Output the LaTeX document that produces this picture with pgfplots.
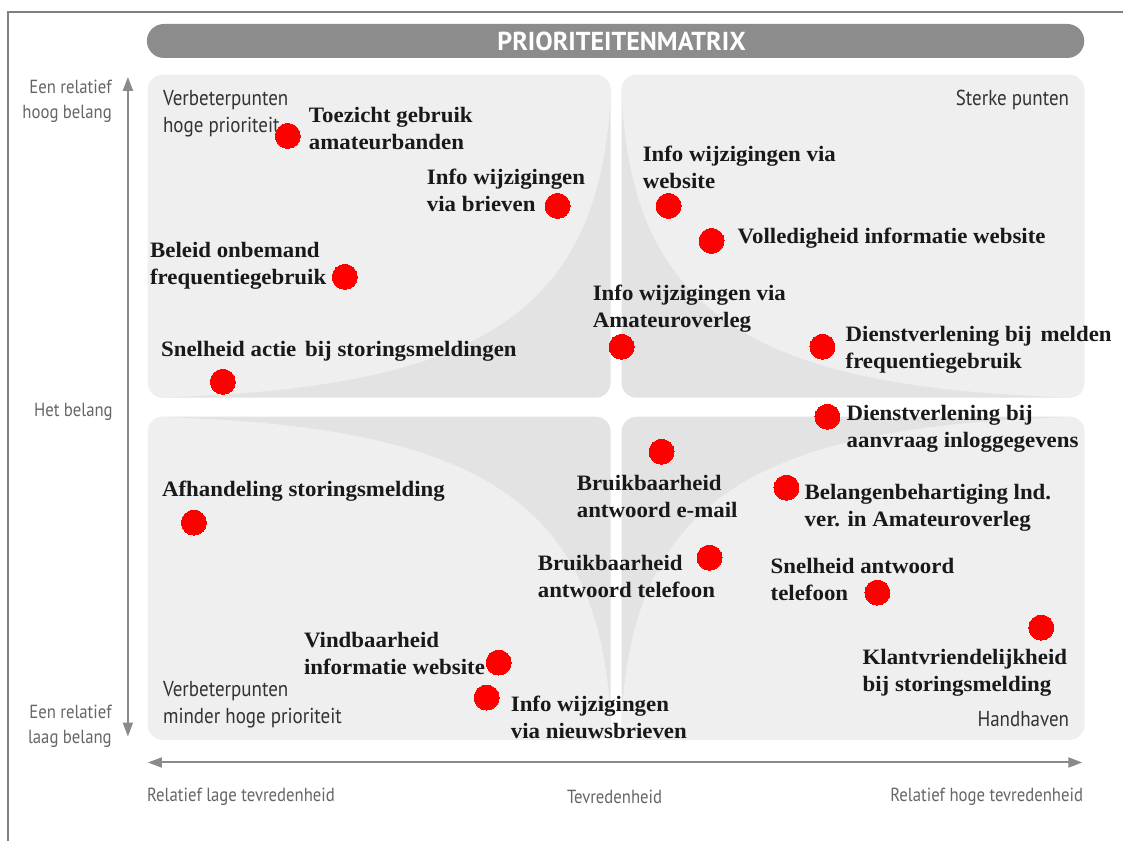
\documentclass[border=0pt]{standalone}
\usepackage{fontspec}
\setmainfont[FakeStretch=1.04]{Liberation Serif}
\newfontfamily\sansf[FakeStretch=0.88]{PT Sans}
\newfontfamily\titlef{PT Sans}
\usepackage{pgfplots}
\pgfplotsset{compat=1.18}
\usetikzlibrary{arrows.meta}

\definecolor{quaddark}{HTML}{E3E3E3}
\definecolor{quadlight}{HTML}{EFEFEF}
\definecolor{titlebar}{HTML}{8C8C8C}
\definecolor{axgray}{HTML}{8A8A8A}
\definecolor{labgray}{HTML}{666666}
\definecolor{qlabc}{HTML}{333333}
\definecolor{framegray}{HTML}{808080}
\definecolor{dotred}{HTML}{FF0000}

\tikzset{
  lab/.style={anchor=west, align=left, inner sep=0pt, text=black!90, yshift=-2pt,
    font=\bfseries\fontsize{22}{27}\selectfont},
  axlab/.style={inner sep=0pt, text=labgray, yshift=-2pt, font=\sansf\fontsize{19}{25}\selectfont},
  qlab/.style={inner sep=0pt, text=qlabc, yshift=-2pt, font=\sansf\fontsize{21.6}{27}\selectfont},
}

\begin{document}
\begin{tikzpicture}
\begin{axis}[
  scale only axis, width=1124pt, height=842pt,
  xmin=0, xmax=1124, ymin=0, ymax=842, y dir=reverse,
  hide axis, clip=false,
]
% page background and frame
\fill[white] (axis cs:0,0) rectangle (axis cs:1124,842);
\draw[framegray, line width=1.5pt] (axis cs:8,842) -- (axis cs:8,12) -- (axis cs:1124,12);

% title bar
\fill[titlebar, rounded corners=17pt] (axis cs:147,24) rectangle (axis cs:1085,58);
\node[text=white, inner sep=0pt, font=\titlef\bfseries\fontsize{26}{26}\selectfont] at (axis cs:622,41) {PRIORITEITENMATRIX};

% quadrants
\fill[quaddark, rounded corners=15pt] (axis cs:148,75) rectangle (axis cs:611,398);
\fill[quaddark, rounded corners=15pt] (axis cs:622,75) rectangle (axis cs:1085,398);
\fill[quaddark, rounded corners=15pt] (axis cs:148,417) rectangle (axis cs:611,740);
\fill[quaddark, rounded corners=15pt] (axis cs:622,417) rectangle (axis cs:1085,740);
\begin{scope}
\clip[rounded corners=15pt] (axis cs:148,75) rectangle (axis cs:611,398);
\fill[quadlight] (axis cs:148,75) -- (axis cs:611,75) -- (axis cs:611,95) .. controls (axis cs:600,320) and (axis cs:470,390) .. (axis cs:150,398) -- (axis cs:148,398) -- cycle;
\end{scope}
\begin{scope}
\clip[rounded corners=15pt] (axis cs:622,75) rectangle (axis cs:1085,398);
\fill[quadlight] (axis cs:1085,75) -- (axis cs:622,75) -- (axis cs:622,95) .. controls (axis cs:633,320) and (axis cs:763,390) .. (axis cs:1083,398) -- (axis cs:1085,398) -- cycle;
\end{scope}
\begin{scope}
\clip[rounded corners=15pt] (axis cs:148,417) rectangle (axis cs:611,740);
\fill[quadlight] (axis cs:148,740) -- (axis cs:611,740) -- (axis cs:611,720) .. controls (axis cs:600,495) and (axis cs:470,425) .. (axis cs:150,417) -- (axis cs:148,417) -- cycle;
\end{scope}
\begin{scope}
\clip[rounded corners=15pt] (axis cs:622,417) rectangle (axis cs:1085,740);
\fill[quadlight] (axis cs:1085,740) -- (axis cs:622,740) -- (axis cs:622,720) .. controls (axis cs:633,495) and (axis cs:763,425) .. (axis cs:1083,417) -- (axis cs:1085,417) -- cycle;
\end{scope}

% axes arrows
\draw[axgray, line width=2pt, {Triangle[length=14pt,width=10pt]}-{Triangle[length=14pt,width=10pt]}] (axis cs:128,77) -- (axis cs:128,737);
\draw[axgray, line width=2pt, {Triangle[length=14pt,width=10pt]}-{Triangle[length=14pt,width=10pt]}] (axis cs:148,763) -- (axis cs:1083,763);

% axis texts
\node[axlab, anchor=east, align=right] at (axis cs:112,99.5) {Een relatief\\hoog belang};
\node[axlab, anchor=east] at (axis cs:113,410) {Het belang};
\node[axlab, anchor=east, align=right] at (axis cs:112,725) {Een relatief\\laag belang};
\node[axlab, anchor=west] at (axis cs:147,795) {Relatief lage tevredenheid};
\node[axlab] at (axis cs:615,795) {Tevredenheid};
\node[axlab, anchor=east] at (axis cs:1084,795) {Relatief hoge tevredenheid};

% quadrant texts
\node[qlab, anchor=west, align=left] at (axis cs:163,111.5) {Verbeterpunten\\hoge prioriteit};
\node[qlab, anchor=east] at (axis cs:1070,98) {Sterke punten};
\node[qlab, anchor=west, align=left] at (axis cs:163,703.5) {Verbeterpunten\\minder hoge prioriteit};
\node[qlab, anchor=east] at (axis cs:1070,718) {Handhaven};

% data points (x: tevredenheid, y: belang; picture units)
\addplot[only marks, mark=*, mark size=12.5pt, color=dotred, mark options={fill=dotred, draw=dotred, line width=0pt}] coordinates {
(288,136) (558,206) (669,206) (712,241) (345,277) (622,347) (823,347)
(223,382) (828,417) (662,452) (787,488) (194,523) (710,558) (878,593)
(1042,628) (499,663) (487,698)
};

% point labels
\node[lab] at (axis cs:309,126.5) {Toezicht gebruik\\amateurbanden};
\node[lab] at (axis cs:427,188.5) {Info wijzigingen\\via brieven};
\node[lab] at (axis cs:643,165.5) {Info wijzigingen via\\website};
\node[lab] at (axis cs:738,236) {Volledigheid informatie website};
\node[lab] at (axis cs:150,264) {Beleid onbemand\\frequentiegebruik};
\node[lab] at (axis cs:593,306.5) {Info wijzigingen via\\Amateuroverleg};
\node[lab] at (axis cs:846,348.5) {Dienstverlening bij\hspace{0.4em}melden\\frequentiegebruik};
\node[lab] at (axis cs:161,350) {Snelheid actie\hspace{0.4em}bij storingsmeldingen};
\node[lab] at (axis cs:847,427.5) {Dienstverlening bij\\aanvraag inloggegevens};
\node[lab] at (axis cs:577,494.5) {Bruikbaarheid\\antwoord e-mail};
\node[lab] at (axis cs:805,506.5) {Belangenbehartiging lnd.\\ver. in Amateuroverleg};
\node[lab] at (axis cs:162,490) {Afhandeling storingsmelding};
\node[lab] at (axis cs:538,575) {Bruikbaarheid\\antwoord telefoon};
\node[lab] at (axis cs:771,577.5) {Snelheid antwoord\\telefoon};
\node[lab] at (axis cs:863,671.5) {Klantvriendelijkheid\\bij storingsmelding};
\node[lab] at (axis cs:304,651.5) {Vindbaarheid\\informatie website};
\node[lab] at (axis cs:511,715.5) {Info wijzigingen\\via nieuwsbrieven};
\end{axis}
\end{tikzpicture}
\end{document}
